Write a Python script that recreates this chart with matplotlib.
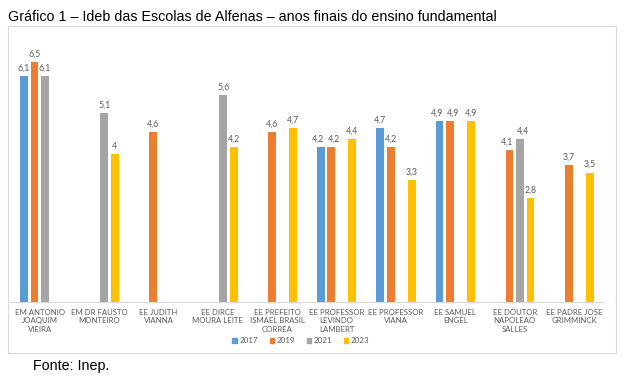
import matplotlib.pyplot as plt
import matplotlib.patches as mpatches
import numpy as np

# Data (None = no bar)
schools = [
    "EM ANTONIO\nJOAQUIM\nVIEIRA",
    "EM DR FAUSTO\nMONTEIRO",
    "EE JUDITH\nVIANNA",
    "EE DIRCE\nMOURA LEITE",
    "EE PREFEITO\nISMAEL BRASIL\nCORREA",
    "EE PROFESSOR\nLEVINDO\nLAMBERT",
    "EE PROFESSOR\nVIANA",
    "EE SAMUEL\nENGEL",
    "EE DOUTOR\nNAPOLEAO\nSALLES",
    "EE PADRE JOSE\nGRIMMINCK",
]
years = ["2017", "2019", "2021", "2023"]
ideb_2017 = [6.1, None, None, None, None, 4.2, 4.7, 4.9, None, None]
ideb_2019 = [6.5, None, 4.6, None, 4.6, 4.2, 4.2, 4.9, 4.1, 3.7]
ideb_2021 = [6.1, 5.1, None, 5.6, None, None, None, None, 4.4, None]
ideb_2023 = [None, 4.0, None, 4.2, 4.7, 4.4, 3.3, 4.9, 2.8, 3.5]

series = [ideb_2017, ideb_2019, ideb_2021, ideb_2023]
colors = ["#5B9BD5", "#ED7D31", "#A5A5A5", "#FFC000"]

label_gray = "#595959"
frame_gray = "#D9D9D9"

fig = plt.figure(figsize=(6.27, 3.8), dpi=100)
ax = fig.add_axes([0.016, 0.2053, 0.947, 0.681])

x = np.arange(len(schools))
slot = 0.177
bar_w = 0.131


def _close(a, b):
    return a is not None and b is not None and abs(a - b) < 0.35


for k, (vals, color) in enumerate(zip(series, colors)):
    offset = (k - 1.5) * slot
    for i, v in enumerate(vals):
        if v is None:
            continue
        ax.bar(x[i] + offset, v, width=bar_w, color=color, zorder=2)

        # nudge labels apart when the neighbouring bar has about the same height
        dx = 0.0
        if k + 1 < len(series) and _close(v, series[k + 1][i]):
            dx -= 2.0
        if k > 0 and _close(v, series[k - 1][i]):
            dx += 2.0

        txt = f"{v:g}".replace(".", ",")
        ax.annotate(
            txt,
            (x[i] + offset, v),
            xytext=(dx, 2.5),
            textcoords="offset points",
            ha="center",
            va="bottom",
            fontsize=6.3,
            color=label_gray,
            family="Lato",
        )

ax.set_xlim(-0.5, len(schools) - 0.5)
ax.set_ylim(0, 7)
ax.set_yticks([])
ax.set_xticks(x)
ax.set_xticklabels(schools, fontsize=5.6, color=label_gray, family="Lato", linespacing=1.25)
ax.tick_params(axis="x", length=0, pad=5)
for side in ["top", "left", "right"]:
    ax.spines[side].set_visible(False)
ax.spines["bottom"].set_color(frame_gray)
ax.spines["bottom"].set_linewidth(0.8)

# chart border box
border = mpatches.Rectangle(
    (0.0128, 0.071), 0.970, 0.861,
    transform=fig.transFigure, fill=False, edgecolor=frame_gray, linewidth=0.8,
)
fig.add_artist(border)

handles = [mpatches.Patch(color=c, label=y) for c, y in zip(colors, years)]
fig.legend(
    handles=handles,
    loc="center",
    bbox_to_anchor=(0.48, 0.103),
    ncol=4,
    frameon=False,
    prop={"family": "Lato", "size": 5.8},
    labelcolor=label_gray,
    handlelength=0.6,
    handleheight=0.6,
    handletextpad=0.3,
    columnspacing=1.4,
)

fig.text(0.013, 0.955, "Gráfico 1 – Ideb das Escolas de Alfenas – anos finais do ensino fundamental",
         fontsize=10.3, family="Liberation Sans", va="center", ha="left")
fig.text(0.053, 0.037, "Fonte: Inep.", fontsize=10.3, family="Liberation Sans", va="center", ha="left")

fig.savefig("out.png", dpi=100)
